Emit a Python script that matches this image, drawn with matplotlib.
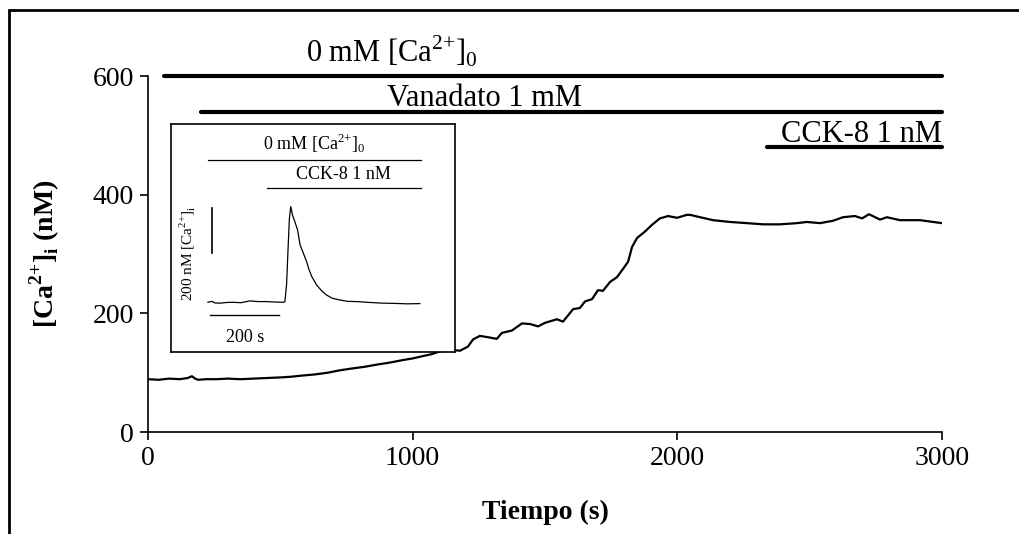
import matplotlib
matplotlib.use("Agg")
from matplotlib import pyplot
from matplotlib.patches import Rectangle

pyplot.rcParams['font.family'] = ['Liberation Serif', 'DejaVu Serif']
pyplot.rcParams['mathtext.fontset'] = 'custom'
pyplot.rcParams['mathtext.rm'] = 'Liberation Serif'
pyplot.rcParams['mathtext.bf'] = 'Liberation Serif:bold'

# main recording: time (s) vs [Ca2+]i (nM)
t_main = [0, 40, 80, 120, 150, 166, 178, 189, 220, 260, 300, 348, 400, 450, 500, 537,
          580, 630, 680, 725, 770, 820, 870, 914, 960, 1000, 1039, 1070, 1103, 1152,
          1179, 1209, 1228, 1254, 1281, 1318, 1337, 1375, 1413, 1443, 1474, 1500, 1545,
          1568, 1606, 1632, 1651, 1678, 1700, 1719, 1746, 1772, 1795, 1814, 1829, 1848,
          1878, 1904, 1934, 1965, 1999, 2036, 2048, 2086, 2135, 2199, 2263, 2324, 2388,
          2452, 2490, 2539, 2588, 2626, 2671, 2698, 2724, 2766, 2792, 2841, 2917, 3000]
ca_main = [89, 88, 90, 89, 91, 94, 90, 88, 89, 89, 90, 89, 90, 91, 92, 93,
           95, 97, 100, 104, 107, 110, 114, 117, 121, 124, 128, 131, 136, 138,
           137, 144, 156, 162, 160, 157, 167, 171, 183, 182, 178, 184, 190,
           186, 207, 209, 220, 224, 239, 238, 253, 261, 275, 287, 312, 327,
           338, 349, 360, 364, 361, 366, 366, 362, 357, 354, 352, 350, 350,
           352, 354, 352, 356, 362, 364, 360, 367, 358, 362, 357, 357, 352]

# treatment bars
bar_labels = ['0 mM [Ca$^{2{+}}$]$_0$', 'Vanadato 1 mM', 'CCK-8 1 nM']
bar_start = [60, 200, 2340]
bar_end = [3000, 3000, 3000]
bar_level = [600, 540, 480]

# inset: control CCK-8 response
t_ins = [0, 12, 20, 35, 55, 72, 95, 122, 145, 170, 195, 218, 223, 228, 232, 236, 240,
         245, 252, 260, 267, 276, 286, 293, 301, 315, 330, 344, 360, 383, 405, 431,
         470, 506, 540, 576, 614]
ca_ins = [100, 104, 97, 96, 99, 100, 98, 106, 103, 103, 101, 100, 102, 180, 330, 470, 525,
          488, 458, 420, 355, 320, 280, 245, 214, 177, 150, 132, 118, 110, 104, 103,
          99, 96, 95, 93, 94]
ins_labels = ['0 mM [Ca$^{2{+}}$]$_0$', 'CCK-8 1 nM']
ins_start = [0, 171]
ins_end = [617, 617]
ins_level = [732, 608]

fig = pyplot.figure(figsize=(10.2, 5.34), dpi=100)
fig.add_artist(Rectangle((9/1020, -0.2), 1.2, 1.2 - 10/534, transform=fig.transFigure,
                         fill=False, lw=2, ec='k'))

ax = fig.add_axes([148/1020, 1 - 432/534, 794/1020, 356/534])
ax.plot(t_main, ca_main, c='k', lw=1.6)
for x0, x1, y in zip(bar_start, bar_end, bar_level):
    ax.plot([x0, x1], [y, y], c='k', lw=3, solid_capstyle='round', clip_on=False)
ax.text(920, 623, bar_labels[0], ha='center', va='baseline', fontsize=22)
ax.text(1270, 549, bar_labels[1], ha='center', va='baseline', fontsize=22)
ax.text(3000, 489, bar_labels[2], ha='right', va='baseline', fontsize=22)

ax.set_xlim(0, 3000)
ax.set_ylim(0, 600)
ax.set_xticks([0, 1000, 2000, 3000])
ax.set_yticks([0, 200, 400, 600])
ax.tick_params(direction='out', length=6, width=1.2, labelsize=20, pad=4)
for s in ['top', 'right']:
    ax.spines[s].set_visible(False)
for s in ['left', 'bottom']:
    ax.spines[s].set_linewidth(1.2)
ax.set_xlabel('Tiempo (s)', fontsize=20, fontweight='bold')
ax.xaxis.set_label_coords(0.5, -0.19)
ax.set_ylabel('[Ca$^{\\mathbf{2{+}}}$]$_{\\mathbf{i}}$ (nM)', fontsize=20, fontweight='bold')
ax.yaxis.set_label_coords(-0.108, 0.5)

# inset panel
ai = fig.add_axes([171/1020, 1 - 352/534, 284/1020, 228/534])
ai.plot(t_ins, ca_ins, c='k', lw=0.9)
for x0, x1, y in zip(ins_start, ins_end, ins_level):
    ai.plot([x0, x1], [y, y], c='k', lw=0.9)
ai.text(308, 755, ins_labels[0], ha='center', va='bottom', fontsize=13)
ai.text(392, 628, ins_labels[1], ha='center', va='bottom', fontsize=13)
ai.plot([12, 12], [318, 518], c='k', lw=1.2)
ai.plot([6, 206], [44, 44], c='k', lw=1.0)
ai.text(107, -20, '200 s', ha='center', va='top', fontsize=13)
ai.text(-61, 318, '200 nM [Ca$^{2{+}}$]$_\\mathrm{i}$', ha='center', va='center',
        rotation=90, fontsize=11)
ai.set_xlim(-107, 716)
ai.set_ylim(-121, 892)
ai.set_xticks([])
ai.set_yticks([])
for s in ai.spines.values():
    s.set_linewidth(1.2)

fig.savefig('out.png', dpi=100)
